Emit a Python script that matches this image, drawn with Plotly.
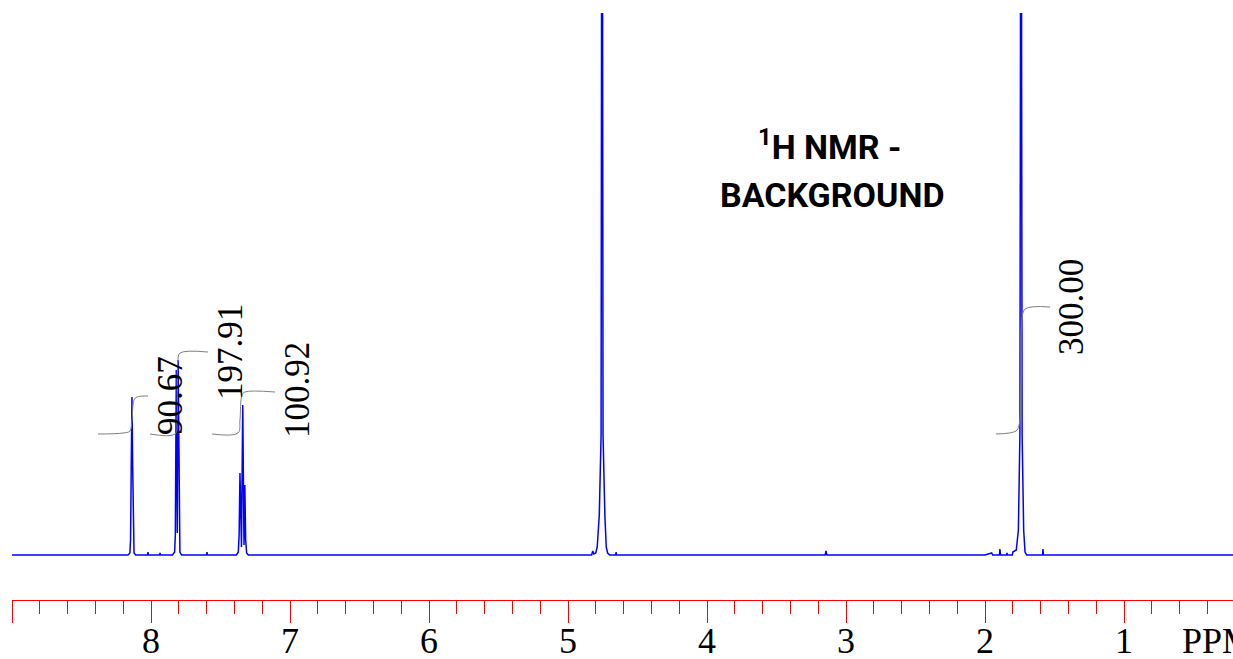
import plotly.graph_objects as go

# ---------------- data ----------------
# spectrum: chemical shift (ppm) and intensity (arbitrary units, baseline = 0)
spec_ppm = [9.000, 8.165, 8.152, 8.147, 8.142, 8.137, 8.132, 8.127, 8.122, 8.110,
            8.025, 8.022, 8.019, 7.938, 7.935, 7.932,
            7.845, 7.830, 7.825, 7.818, 7.811, 7.805, 7.798, 7.792, 7.780,
            7.600, 7.597, 7.594,
            7.385, 7.372, 7.366, 7.360, 7.349, 7.340, 7.331, 7.325, 7.319, 7.312, 7.300,
            4.830, 4.822, 4.815, 4.800, 4.790, 4.775, 4.762, 4.759, 4.755, 4.751, 4.748,
            4.735, 4.725, 4.715, 4.700, 4.657, 4.654, 4.651,
            3.150, 3.144, 3.138,
            2.000, 1.952, 1.945, 1.896, 1.893, 1.888, 1.845, 1.842, 1.838, 1.803, 1.800,
            1.775, 1.760, 1.749, 1.745, 1.741, 1.737, 1.733, 1.722, 1.712, 1.700,
            1.586, 1.583, 1.580, 0.216]
spec_int = [0, 0, 2, 15, 90, 158, 90, 15, 2, 0,
            0, 3, 0, 0, 2, 0,
            0, 3, 20, 185, 22, 195, 20, 3, 0,
            0, 3, 0,
            0, 3, 20, 82, 8, 150, 10, 70, 15, 2, 0,
            0, 4, 1, 2, 8, 40, 120, 500, 3000, 500, 120,
            40, 8, 2, 0, 0, 3, 0,
            0, 4, 0,
            0, 2, 0, 0, 6, 0, 0, 2, 0, 0, 3,
            5, 25, 120, 500, 3000, 500, 120, 25, 3, 0,
            0, 6, 0, 0]

# integral curves (ppm, level)
int1_ppm = [8.381, 8.201, 8.151, 8.137, 8.122, 8.101, 8.022]
int1_val = [121, 122, 124, 135, 155, 158, 159]
int2_ppm = [8.007, 7.827, 7.813, 7.806, 7.791, 7.590]
int2_val = [121, 121, 135, 195, 202, 203]
int3_ppm = [7.561, 7.374, 7.360, 7.345, 7.324, 7.108]
int3_val = [121, 122, 135, 160, 163, 163]
int4_ppm = [1.921, 1.777, 1.755, 1.741, 1.734, 1.712, 1.532]
int4_val = [121, 124, 130, 175, 235, 246, 248]

integral_labels = ["90.67", "197.91", "100.92", "300.00"]
label_ppm = [7.863, 7.432, 6.950, 1.381]
label_level = [159, 203, 165, 248]

major_ticks = [9, 8, 7, 6, 5, 4, 3, 2, 1]
major_text = ["", "8", "7", "6", "5", "4", "3", "2", "1"]
minor_ticks = [round(0.2 * i, 1) for i in range(2, 45)]

SERIF = "Liberation Serif, Times New Roman, Times, serif"

# ---------------- figure ----------------
fig = go.Figure()
fig.add_trace(go.Scatter(x=spec_ppm, y=spec_int, mode="lines",
                         line=dict(color="#0000ff", width=1.5), hoverinfo="skip"))
for xs, ys in [(int1_ppm, int1_val), (int2_ppm, int2_val),
               (int3_ppm, int3_val), (int4_ppm, int4_val)]:
    fig.add_trace(go.Scatter(x=xs, y=ys, mode="lines", line_shape="spline",
                             line=dict(color="#808080", width=1), hoverinfo="skip"))

for txt, px, lv in zip(integral_labels, label_ppm, label_level):
    fig.add_annotation(x=px, y=lv, text=txt, textangle=-90, showarrow=False,
                       xanchor="center", yanchor="middle",
                       font=dict(family=SERIF, size=35, color="black"))

fig.add_annotation(xref="paper", yref="paper", x=(830 - 12) / 1221, y=(600 - 145) / 587,
                   text="<b><sup>1</sup>H NMR -</b>",
                   showarrow=False, xanchor="center", yanchor="middle",
                   font=dict(family="Roboto", size=34, color="black"))
fig.add_annotation(xref="paper", yref="paper", x=(832 - 12) / 1221, y=(600 - 195) / 587,
                   text="<b>BACKGROUND</b>",
                   showarrow=False, xanchor="center", yanchor="middle",
                   font=dict(family="Roboto", size=34, color="black"))

fig.add_annotation(xref="paper", yref="paper", x=(1180 - 12) / 1221, y=(600 - 641) / 587,
                   text="PPM", showarrow=False, xanchor="left", yanchor="middle",
                   font=dict(family=SERIF, size=36, color="black"))

fig.update_layout(
    width=1233, height=659,
    margin=dict(l=12, r=0, t=13, b=59, autoexpand=False),
    paper_bgcolor="white", plot_bgcolor="white",
    showlegend=False,
    xaxis=dict(range=[9.0, 0.216], showgrid=False, zeroline=False, automargin=False,
               showline=True, linecolor="red", linewidth=1,
               tickmode="array", tickvals=major_ticks, ticktext=major_text,
               ticks="outside", ticklen=22, tickcolor="red", tickwidth=1,
               ticklabelstandoff=-13,
               tickfont=dict(family=SERIF, size=36, color="black"),
               minor=dict(tickmode="array", tickvals=minor_ticks, ticks="outside",
                          ticklen=13, tickcolor="red", tickwidth=1, showgrid=False)),
    yaxis=dict(range=[-45, 542], showgrid=False, zeroline=False, showline=False,
               showticklabels=False, ticks="", automargin=False),
)

fig.write_html("out.html")
